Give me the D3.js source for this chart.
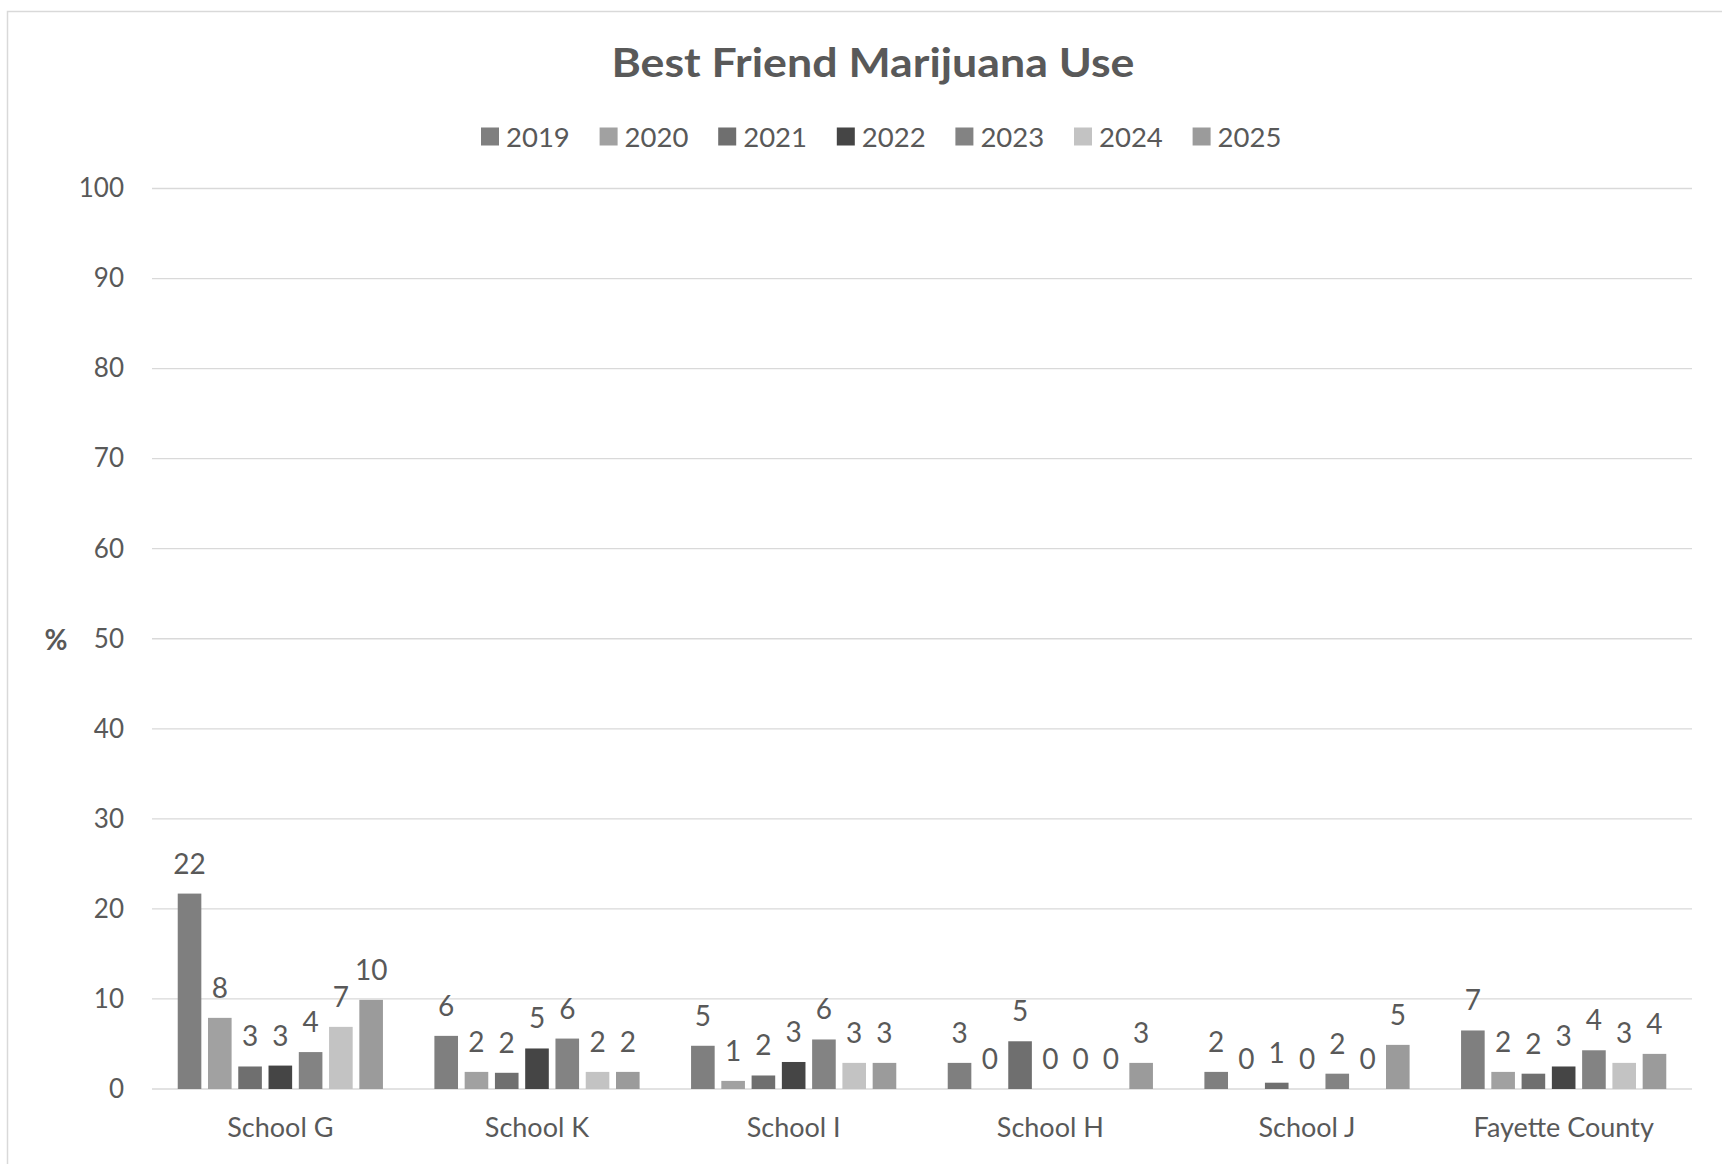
<!DOCTYPE html>
<html><head><meta charset="utf-8">
<script src="https://cdn.jsdelivr.net/npm/d3@7"></script>
<style>body{margin:0;background:#fff}svg{display:block}text{font-family:Lato,"Open Sans",sans-serif;fill:#595959}</style>
</head><body>
<script>
const title = "Best Friend Marijuana Use";
const categories = ["School G","School K","School I","School H","School J","Fayette County"];
const years = ["2019","2020","2021","2022","2023","2024","2025"];
const colors = ["#7f7f7f","#a1a1a1","#6f6f6f","#454545","#838383","#c3c3c3","#9b9b9b"];
// one array per year, values per category
const v2019 = [21.7, 5.9, 4.8, 2.9, 1.9, 6.5];
const v2020 = [7.9, 1.9, 0.9, 0, 0, 1.9];
const v2021 = [2.5, 1.8, 1.5, 5.3, 0.7, 1.7];
const v2022 = [2.6, 4.5, 3.0, 0, 0, 2.5];
const v2023 = [4.1, 5.6, 5.5, 0, 1.7, 4.3];
const v2024 = [6.9, 1.9, 2.9, 0, 0, 2.9];
const v2025 = [9.9, 1.9, 2.9, 2.9, 4.9, 3.9];
const yTicks = [0,10,20,30,40,50,60,70,80,90,100];
const yLabel = "%";

const series = [v2019,v2020,v2021,v2022,v2023,v2024,v2025];
const W = 1722, H = 1164;
const svg = d3.select("body").append("svg").attr("width", W).attr("height", H);
svg.append("rect").attr("x",7.5).attr("y",11.5).attr("width",1800).attr("height",1300)
  .attr("fill","#fff").attr("stroke","#d9d9d9").attr("stroke-width",1.5);

const L = 152, R = 1692, T = 188.5, B = 1089;
const x0 = d3.scaleBand().domain(categories).range([L, R]);
const x1 = d3.scaleBand().domain(years).range([0, x0.bandwidth()]).paddingInner(0.22).paddingOuter(0.85);
const y = d3.scaleLinear().domain([0,100]).range([B, T]);

// gridlines
svg.append("g").selectAll("line").data(yTicks).join("line")
  .attr("x1", L).attr("x2", R).attr("y1", d=>y(d)).attr("y2", d=>y(d))
  .attr("stroke","#d9d9d9").attr("stroke-width",1.3);

// y axis labels
const yAxis = svg.append("g").attr("transform",`translate(${L-28},0)`)
  .call(d3.axisLeft(y).tickValues(yTicks).tickSize(0).tickPadding(0));
yAxis.select(".domain").remove();
yAxis.selectAll("text").attr("font-size",26).attr("fill","#595959").style("font-family","Lato, sans-serif");

svg.append("text").attr("x",56).attr("y",643).attr("text-anchor","middle").attr("dominant-baseline","middle")
  .attr("font-size",28).attr("font-weight","bold").text(yLabel);

// bars
const groups = svg.append("g").selectAll("g").data(years).join("g").attr("fill",(d,i)=>colors[i]);
groups.selectAll("rect").data((yr,i)=>categories.map((c,j)=>({c, yr, v: series[i][j]})))
  .join("rect")
  .attr("x", d=>x0(d.c)+x1(d.yr)).attr("width", x1.bandwidth())
  .attr("y", d=>y(d.v)).attr("height", d=>B - y(d.v));

// data labels
const lab = svg.append("g");
years.forEach((yr,i)=>{
  categories.forEach((c,j)=>{
    const v = series[i][j];
    lab.append("text").attr("x", x0(c)+x1(yr)+x1.bandwidth()/2).attr("y", y(v)-20)
      .attr("text-anchor","middle").attr("font-size",28).text(Math.round(v));
  });
});

// x axis labels
const xAxis = svg.append("g").attr("transform",`translate(0,${B})`)
  .call(d3.axisBottom(x0).tickSize(0).tickPadding(29));
xAxis.select(".domain").remove();
xAxis.selectAll("text").attr("font-size",27).attr("fill","#595959").style("font-family","Lato, sans-serif");

// title
svg.append("text").attr("x",873).attr("y",77).attr("text-anchor","middle")
  .attr("font-size",40).attr("font-weight","bold")
  .attr("textLength",523).attr("lengthAdjust","spacingAndGlyphs").text(title);

// legend
const lg = svg.append("g");
years.forEach((yr,i)=>{
  const gx = 481 + i*118.6;
  lg.append("rect").attr("x",gx).attr("y",127.5).attr("width",18).attr("height",18).attr("fill",colors[i]);
  lg.append("text").attr("x",gx+25).attr("y",147).attr("font-size",27.5).text(yr);
});
</script>
</body></html>
